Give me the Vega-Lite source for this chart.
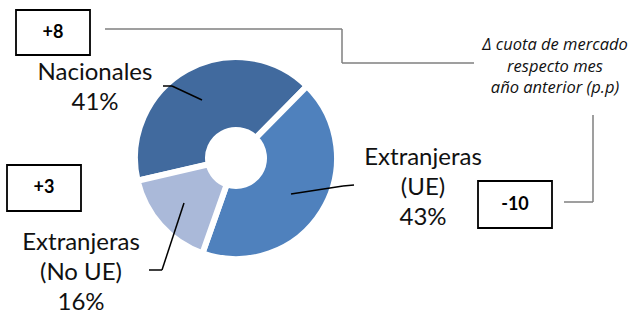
{
  "$schema": "https://vega.github.io/schema/vega-lite/v6.json",
  "width": 633,
  "height": 315,
  "autosize": {"type": "fit", "contains": "padding"},
  "padding": 0,
  "background": "white",
  "config": {"view": {"stroke": null}, "axis": {"disable": true}},
  "data": {
    "values": [
      {"categoria": "Nacionales", "etiqueta": "Nacionales\n41%", "porcentaje": 41, "variacion": "+8"},
      {"categoria": "Extranjeras (UE)", "etiqueta": "Extranjeras\n(UE)\n43%", "porcentaje": 43, "variacion": "-10"},
      {"categoria": "Extranjeras (No UE)", "etiqueta": "Extranjeras\n(No UE)\n16%", "porcentaje": 16, "variacion": "+3"}
    ]
  },
  "layer": [
    {
      "mark": {"type": "arc", "innerRadius": 28, "outerRadius": 101, "stroke": "white", "strokeWidth": 6, "strokeJoin": "round"},
      "encoding": {
        "x": {"datum": 236, "type": "quantitative", "scale": {"domain": [0, 633], "nice": false, "zero": false}, "axis": null},
        "y": {"datum": 158, "type": "quantitative", "scale": {"domain": [0, 315], "nice": false, "zero": false, "reverse": true}, "axis": null},
        "theta": {"field": "porcentaje", "type": "quantitative", "stack": true, "scale": {"range": [4.4855, 10.7687]}},
        "order": {"field": "categoria", "sort": "descending"},
        "color": {"field": "categoria", "type": "nominal", "legend": null,
          "scale": {"domain": ["Nacionales", "Extranjeras (UE)", "Extranjeras (No UE)"], "range": ["#416A9E", "#4F81BD", "#AAB9D9"]}}
      }
    },
    {
      "data": {"values": [{}]},
      "mark": {"type": "rule", "color": "black", "strokeWidth": 1.5},
      "encoding": {"x": {"datum": 163}, "y": {"datum": 86}, "x2": {"datum": 172}, "y2": {"datum": 86}}
    },
    {
      "data": {"values": [{}]},
      "mark": {"type": "rule", "color": "black", "strokeWidth": 1.5},
      "encoding": {"x": {"datum": 172}, "y": {"datum": 86}, "x2": {"datum": 202}, "y2": {"datum": 100}}
    },
    {
      "data": {"values": [{}]},
      "mark": {"type": "rule", "color": "black", "strokeWidth": 1.5},
      "encoding": {"x": {"datum": 291}, "y": {"datum": 194}, "x2": {"datum": 343}, "y2": {"datum": 186}}
    },
    {
      "data": {"values": [{}]},
      "mark": {"type": "rule", "color": "black", "strokeWidth": 1.5},
      "encoding": {"x": {"datum": 343}, "y": {"datum": 186}, "x2": {"datum": 354}, "y2": {"datum": 185}}
    },
    {
      "data": {"values": [{}]},
      "mark": {"type": "rule", "color": "black", "strokeWidth": 1.5},
      "encoding": {"x": {"datum": 184}, "y": {"datum": 203}, "x2": {"datum": 162}, "y2": {"datum": 270}}
    },
    {
      "data": {"values": [{}]},
      "mark": {"type": "rule", "color": "black", "strokeWidth": 1.5},
      "encoding": {"x": {"datum": 162}, "y": {"datum": 270}, "x2": {"datum": 149}, "y2": {"datum": 270}}
    },
    {
      "data": {"values": [{}]},
      "mark": {"type": "rule", "color": "#7F7F7F", "strokeWidth": 1.5},
      "encoding": {"x": {"datum": 105}, "y": {"datum": 29}, "x2": {"datum": 342}, "y2": {"datum": 29}}
    },
    {
      "data": {"values": [{}]},
      "mark": {"type": "rule", "color": "#7F7F7F", "strokeWidth": 1.5},
      "encoding": {"x": {"datum": 342}, "y": {"datum": 29}, "x2": {"datum": 342}, "y2": {"datum": 63}}
    },
    {
      "data": {"values": [{}]},
      "mark": {"type": "rule", "color": "#7F7F7F", "strokeWidth": 1.5},
      "encoding": {"x": {"datum": 342}, "y": {"datum": 63}, "x2": {"datum": 474}, "y2": {"datum": 63}}
    },
    {
      "data": {"values": [{}]},
      "mark": {"type": "rule", "color": "#7F7F7F", "strokeWidth": 1.5},
      "encoding": {"x": {"datum": 593}, "y": {"datum": 115}, "x2": {"datum": 593}, "y2": {"datum": 202}}
    },
    {
      "data": {"values": [{}]},
      "mark": {"type": "rule", "color": "#7F7F7F", "strokeWidth": 1.5},
      "encoding": {"x": {"datum": 593}, "y": {"datum": 202}, "x2": {"datum": 564}, "y2": {"datum": 202}}
    },
    {
      "data": {"values": [{}]},
      "mark": {"type": "rect", "fill": "white", "stroke": "black", "strokeWidth": 1.8},
      "encoding": {"x": {"datum": 16}, "y": {"datum": 10}, "x2": {"datum": 90}, "y2": {"datum": 55}}
    },
    {
      "data": {"values": [{}]},
      "mark": {"type": "rect", "fill": "white", "stroke": "black", "strokeWidth": 1.8},
      "encoding": {"x": {"datum": 7}, "y": {"datum": 165}, "x2": {"datum": 81}, "y2": {"datum": 211}}
    },
    {
      "data": {"values": [{}]},
      "mark": {"type": "rect", "fill": "white", "stroke": "black", "strokeWidth": 1.8},
      "encoding": {"x": {"datum": 478}, "y": {"datum": 181}, "x2": {"datum": 552}, "y2": {"datum": 228}}
    },
    {
      "transform": [{"filter": "datum.categoria == 'Nacionales'"}],
      "mark": {"type": "text", "font": "Lato", "fontSize": 18, "fontWeight": "bold", "color": "black", "align": "center", "baseline": "middle"},
      "encoding": {"x": {"datum": 53}, "y": {"datum": 33}, "text": {"field": "variacion"}}
    },
    {
      "transform": [{"filter": "datum.categoria == 'Extranjeras (No UE)'"}],
      "mark": {"type": "text", "font": "Lato", "fontSize": 18, "fontWeight": "bold", "color": "black", "align": "center", "baseline": "middle"},
      "encoding": {"x": {"datum": 44}, "y": {"datum": 188}, "text": {"field": "variacion"}}
    },
    {
      "transform": [{"filter": "datum.categoria == 'Extranjeras (UE)'"}],
      "mark": {"type": "text", "font": "Lato", "fontSize": 18, "fontWeight": "bold", "color": "black", "align": "center", "baseline": "middle"},
      "encoding": {"x": {"datum": 515}, "y": {"datum": 205}, "text": {"field": "variacion"}}
    },
    {
      "transform": [{"filter": "datum.categoria == 'Nacionales'"}],
      "mark": {"type": "text", "font": "Lato", "fontSize": 24, "color": "#111111", "align": "center", "baseline": "alphabetic", "lineBreak": "\n", "lineHeight": 30},
      "encoding": {"x": {"datum": 95}, "y": {"datum": 80}, "text": {"field": "etiqueta"}}
    },
    {
      "transform": [{"filter": "datum.categoria == 'Extranjeras (UE)'"}],
      "mark": {"type": "text", "font": "Lato", "fontSize": 24, "color": "#111111", "align": "center", "baseline": "alphabetic", "lineBreak": "\n", "lineHeight": 30},
      "encoding": {"x": {"datum": 423}, "y": {"datum": 165}, "text": {"field": "etiqueta"}}
    },
    {
      "transform": [{"filter": "datum.categoria == 'Extranjeras (No UE)'"}],
      "mark": {"type": "text", "font": "Lato", "fontSize": 24, "color": "#111111", "align": "center", "baseline": "alphabetic", "lineBreak": "\n", "lineHeight": 30},
      "encoding": {"x": {"datum": 81}, "y": {"datum": 250}, "text": {"field": "etiqueta"}}
    },
    {
      "data": {"values": [{}]},
      "mark": {"type": "text", "font": "Open Sans", "fontSize": 16.5, "fontStyle": "italic", "color": "#111111", "align": "center", "baseline": "alphabetic", "lineHeight": 21.5},
      "encoding": {"x": {"datum": 555}, "y": {"datum": 50}, "text": {"value": ["Δ cuota de mercado", "respecto mes", "año anterior (p.p)"]}}
    }
  ]
}
